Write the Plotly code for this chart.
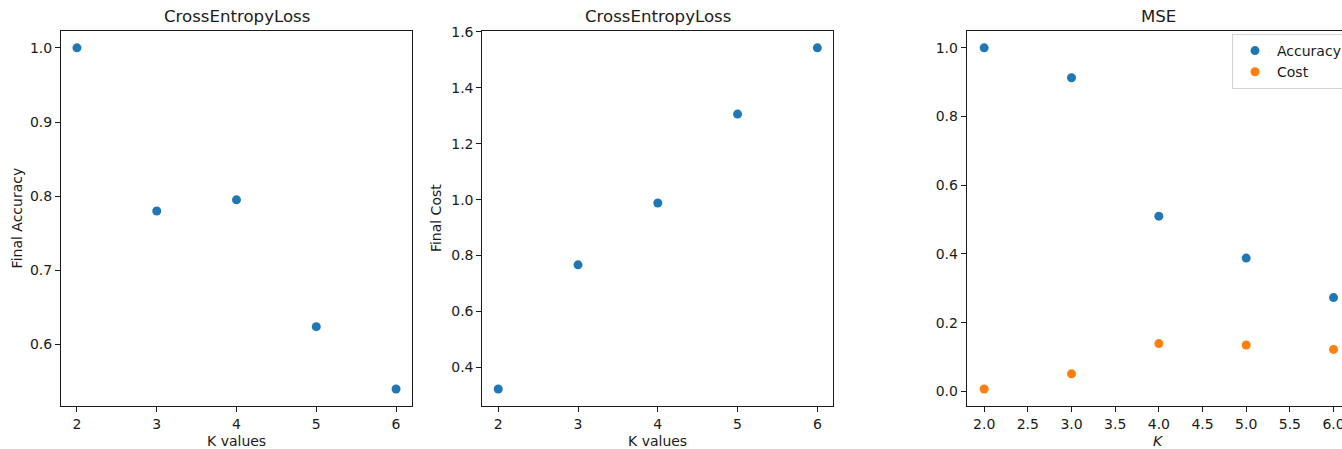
import plotly.graph_objects as go

# K values tested
k_values = [2, 3, 4, 5, 6]

# Cross-entropy loss runs
ce_accuracy = [1.0, 0.78, 0.795, 0.624, 0.54]
ce_cost = [0.323, 0.767, 0.988, 1.306, 1.543]

# MSE runs
mse_accuracy = [1.0, 0.913, 0.510, 0.388, 0.273]
mse_cost = [0.007, 0.051, 0.139, 0.135, 0.122]

BLUE = "#1f77b4"
ORANGE = "#ff7f0e"
INK = "#1a1a1a"
FONT = "DejaVu Sans"

W, H = 1342, 449


def padded(lo, hi, frac=0.05):
    span = hi - lo
    return [lo - frac * span, hi + frac * span]


def px_x(p):
    return p / W


def px_y(p):
    return 1 - p / H


fig = go.Figure()

marker = dict(size=9, line=dict(width=0))

fig.add_trace(go.Scatter(x=k_values, y=ce_accuracy, mode="markers",
                         marker=dict(color=BLUE, **marker), showlegend=False,
                         xaxis="x", yaxis="y"))
fig.add_trace(go.Scatter(x=k_values, y=ce_cost, mode="markers",
                         marker=dict(color=BLUE, **marker), showlegend=False,
                         xaxis="x2", yaxis="y2"))
fig.add_trace(go.Scatter(x=k_values, y=mse_accuracy, mode="markers", name="Accuracy",
                         marker=dict(color=BLUE, **marker),
                         xaxis="x3", yaxis="y3"))
fig.add_trace(go.Scatter(x=k_values, y=mse_cost, mode="markers", name="Cost",
                         marker=dict(color=ORANGE, **marker),
                         xaxis="x3", yaxis="y3"))

# panel frames in pixels
top_px, bot_px = 30.8, 406
panels_px = [(61, 412), (482.3, 833.3), (966.7, 1351)]
ydom = [px_y(bot_px), px_y(top_px)]

axis_common = dict(
    showline=True, linecolor=INK, linewidth=1,
    ticks="outside", ticklen=5, tickwidth=1, tickcolor=INK,
    showgrid=False, zeroline=False,
    ticklabeloverflow="allow",
    tickfont=dict(family=FONT, size=14, color=INK),
)

xr = padded(min(k_values), max(k_values))

# third panel runs past the right edge of the page
x3_left, x3_right = panels_px[2]
x3_range = [xr[0], xr[0] + (xr[1] - xr[0]) * (W - x3_left) / (x3_right - x3_left)]

fig.update_layout(
    xaxis=dict(domain=[px_x(panels_px[0][0]), px_x(panels_px[0][1])], range=xr,
               tickvals=k_values, mirror=True, anchor="y", **axis_common),
    yaxis=dict(domain=ydom, range=padded(min(ce_accuracy), max(ce_accuracy)),
               tickvals=[0.6, 0.7, 0.8, 0.9, 1.0], tickformat=".1f", mirror=True,
               anchor="x", **axis_common),
    xaxis2=dict(domain=[px_x(panels_px[1][0]), px_x(panels_px[1][1])], range=xr,
                tickvals=k_values, mirror=True, anchor="y2", **axis_common),
    yaxis2=dict(domain=ydom, range=padded(min(ce_cost), max(ce_cost)),
                tickvals=[0.4, 0.6, 0.8, 1.0, 1.2, 1.4, 1.6], tickformat=".1f",
                mirror=True, anchor="x2", **axis_common),
    xaxis3=dict(domain=[px_x(x3_left), 1.0], range=x3_range,
                tickvals=[2.0, 2.5, 3.0, 3.5, 4.0, 4.5, 5.0, 5.5, 6.0], tickformat=".1f",
                mirror=True, anchor="y3", **axis_common),
    yaxis3=dict(domain=ydom,
                range=padded(min(mse_cost + mse_accuracy), max(mse_cost + mse_accuracy)),
                tickvals=[0.0, 0.2, 0.4, 0.6, 0.8, 1.0], tickformat=".1f",
                mirror=False, anchor="x3", **axis_common),
    width=W, height=H,
    margin=dict(l=0, r=0, t=0, b=0, autoexpand=False),
    paper_bgcolor="white", plot_bgcolor="white",
    font=dict(family=FONT, color=INK, size=14),
    showlegend=True,
    legend=dict(x=px_x(1232), y=px_y(34), xanchor="left", yanchor="top",
                bgcolor="white", bordercolor="#d4d4d4", borderwidth=1,
                itemwidth=34, tracegroupgap=0,
                font=dict(family=FONT, size=14, color=INK)),
)

annotations = []
titles = ["CrossEntropyLoss", "CrossEntropyLoss", "MSE"]
xlabels = ["K values", "K values", "<i>K</i>"]
ylabels = ["Final Accuracy", "Final Cost", None]
ylabel_x = [17, 436.7, None]
for i, (l, r) in enumerate(panels_px):
    cx = (l + r) / 2
    annotations.append(dict(text=titles[i], x=px_x(cx), y=px_y(17), xref="paper", yref="paper",
                            showarrow=False, xanchor="center", yanchor="middle",
                            font=dict(family=FONT, size=16.6, color=INK)))
    annotations.append(dict(text=xlabels[i], x=px_x(cx), y=px_y(440.5), xref="paper", yref="paper",
                            showarrow=False, xanchor="center", yanchor="middle",
                            font=dict(family=FONT, size=14, color=INK)))
    if ylabels[i]:
        annotations.append(dict(text=ylabels[i], x=px_x(ylabel_x[i]), y=px_y((top_px + bot_px) / 2),
                                xref="paper", yref="paper", showarrow=False, textangle=-90,
                                xanchor="center", yanchor="middle",
                                font=dict(family=FONT, size=14, color=INK)))
fig.update_layout(annotations=annotations)

fig.write_html("out.html")
